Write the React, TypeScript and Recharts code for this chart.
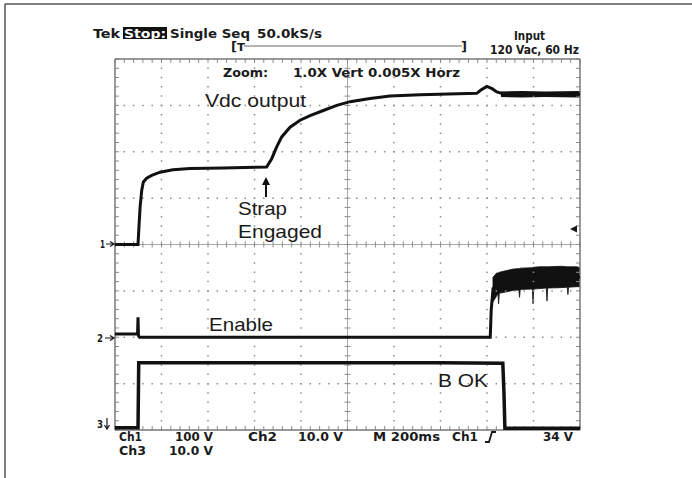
import { Area, ComposedChart, Line, ReferenceLine, XAxis, YAxis } from "recharts";

// time in ms, value in volts
const vdcOutput: [number, number][] = [
  [0, 0], [99, 0], [103, 38], [108, 81], [115, 117], [122, 135], [136, 143],
  [158, 149], [194, 156], [249, 161], [323, 164], [465, 165], [652, 167],
  [674, 185], [695, 210], [717, 232], [753, 253], [796, 268], [839, 278],
  [896, 289], [954, 300], [1011, 308], [1097, 315], [1183, 320], [1312, 323],
  [1556, 326], [1574, 333], [1599, 341], [1622, 336], [1642, 329], [1669, 325],
  [1850, 324], [2000, 324],
];
// [ms, low V, high V] ripple band on Vdc after settling
const vdcRipple: [number, number, number][] = [
  [1660, 318, 330], [1750, 317, 331], [1850, 318, 330], [2000, 317, 331],
];

const enable: [number, number][] = [
  [0, 0.7], [97, 0.7], [99, 4.3], [101, 0.3], [105, 0], [1614, 0], [1618, 5.8],
  [1626, 10.5], [1660, 11.8], [1700, 12.4], [1830, 12.9], [2000, 13],
];
const enableNoise: [number, number, number][] = [
  [1624, 7.5, 12.8], [1640, 8.8, 13.8], [1647, 9.4, 13.9], [1650, 7.2, 13.9],
  [1653, 9.5, 14.0], [1685, 9.8, 14.4], [1712, 10.1, 14.7], [1737, 10.2, 14.8],
  [1740, 8.6, 14.8], [1743, 10.3, 14.9], [1795, 10.4, 15.0], [1798, 7.2, 15.1],
  [1801, 10.4, 15.1], [1828, 10.5, 15.2], [1855, 10.6, 15.2], [1858, 7.8, 15.2],
  [1861, 10.6, 15.2], [1920, 10.7, 15.3], [1945, 10.8, 15.2], [1948, 9.2, 15.2],
  [1951, 10.8, 15.2], [1986, 10.9, 15.2], [2000, 10.9, 15.0],
];

const bOk: [number, number][] = [
  [0, 0.5], [99, 0.5], [102, 14.5], [1400, 14.5], [1668, 14.4], [1673, 8],
  [1677, 0.4], [2000, 0.4],
];

// channel setup: volts per division, ground position in divisions from bottom
const CH1 = { scale: 100, ground: 4 };
const CH2 = { scale: 10, ground: 2 };
const CH3 = { scale: 10, ground: 0 };

const W = 692;
const H = 478;
const M = { top: 59, right: 112, bottom: 48, left: 115 };
const MS_X = 2000 / (W - M.left - M.right); // ms per px
const DIV_Y = 8 / (H - M.top - M.bottom); // div per px

const toPts = (d: [number, number][], ch: { scale: number; ground: number }) =>
  d.map(([t, v]) => ({ t, y: ch.ground + v / ch.scale }));
const toBand = (d: [number, number, number][], ch: { scale: number; ground: number }) =>
  d.map(([t, lo, hi]) => ({ t, y: [ch.ground + lo / ch.scale, ch.ground + hi / ch.scale] }));

const minorX = Array.from({ length: 51 }, (_, i) => i * 40);
const minorY = Array.from({ length: 41 }, (_, i) => i * 0.2);
const majorX = [200, 400, 600, 800, 1200, 1400, 1600, 1800];
const majorY = [1, 2, 3, 5, 6, 7];

const GRID = "#8c8c8c";
const TRACE = "#111";
const scopeFont = "'DejaVu Sans Condensed', 'DejaVu Sans', sans-serif";
const noteFont = "'Liberation Sans', Arial, sans-serif";

function Txt({ x, y, len, size = 13, children, fill = "#1a1a1a", font = scopeFont, bold = true }: any) {
  return (
    <text
      x={x}
      y={y}
      textLength={len}
      lengthAdjust="spacingAndGlyphs"
      fontSize={size}
      fontFamily={font}
      fontWeight={bold ? 700 : 400}
      fill={fill}
    >
      {children}
    </text>
  );
}

function Overlay() {
  return (
    <svg width={W} height={H} style={{ position: "absolute", left: 0, top: 0, pointerEvents: "none" }}>
      <line x1={5} y1={4} x2={W} y2={4} stroke="#555" strokeWidth={1.5} />
      <line x1={5} y1={4} x2={5} y2={H} stroke="#555" strokeWidth={1.5} />

      <Txt x={93} y={38} len={27}>Tek</Txt>
      <rect x={123} y={27} width={44} height={12} fill="#111" />
      <Txt x={124} y={37.5} len={42} fill="#fff">Stop:</Txt>
      <Txt x={170} y={38} len={80}>Single Seq</Txt>
      <Txt x={257} y={38} len={65}>50.0kS/s</Txt>
      <Txt x={514} y={40} len={31} size={12}>Input</Txt>
      <Txt x={490} y={54} len={89} size={12}>120 Vac, 60 Hz</Txt>

      <Txt x={231} y={51} len={6} size={12}>[</Txt>
      <Txt x={237} y={51} len={8} size={11}>T</Txt>
      <line x1={244} y1={46} x2={462} y2={46} stroke="#666" strokeWidth={1} />
      <Txt x={461} y={51} len={6} size={12}>]</Txt>

      <Txt x={223} y={77} len={45}>Zoom:</Txt>
      <Txt x={293} y={77} len={167}>1.0X Vert 0.005X Horz</Txt>

      <Txt x={119} y={441} len={23} size={11.5}>Ch1</Txt>
      <Txt x={175} y={441} len={38} size={11.5}>100 V</Txt>
      <Txt x={248} y={441} len={29} size={11.5}>Ch2</Txt>
      <Txt x={298} y={441} len={45} size={11.5}>10.0 V</Txt>
      <Txt x={373} y={441} len={67} size={11.5}>M 200ms</Txt>
      <Txt x={452} y={441} len={26} size={11.5}>Ch1</Txt>
      <path d="M485 442 L489 442 L492 432 L496 432" fill="none" stroke="#1a1a1a" strokeWidth={1.8} />
      <Txt x={543} y={441} len={30} size={11.5}>34 V</Txt>
      <Txt x={119} y={455} len={27} size={11.5}>Ch3</Txt>
      <Txt x={169} y={455} len={44} size={11.5}>10.0 V</Txt>

      <Txt x={100} y={248} len={5} size={11}>1</Txt>
      <path d="M106 244 L113 244 M110 241.5 L114 244 L110 246.5" fill="none" stroke="#1a1a1a" strokeWidth={1.2} />
      <Txt x={97} y={342} len={6} size={11}>2</Txt>
      <path d="M105 338 L113 338 M110 335.5 L114 338 L110 340.5" fill="none" stroke="#1a1a1a" strokeWidth={1.2} />
      <Txt x={97} y={428} len={6} size={11}>3</Txt>
      <path d="M107 418 L107 428 M104.5 425 L107 429 L109.5 425" fill="none" stroke="#1a1a1a" strokeWidth={1.2} />
      <path d="M570 229 L577 225.5 L577 232.5 Z" fill="#1a1a1a" />

      <Txt x={205} y={107} len={101} size={18.5} font={noteFont} bold={false}>Vdc output</Txt>
      <Txt x={238} y={215} len={49} size={18.5} font={noteFont} bold={false}>Strap</Txt>
      <Txt x={238} y={238} len={84} size={18.5} font={noteFont} bold={false}>Engaged</Txt>
      <line x1={266} y1={197} x2={266} y2={183} stroke="#111" strokeWidth={2} />
      <path d="M266 177 L270 185 L262 185 Z" fill="#111" />
      <Txt x={209} y={331} len={64} size={18.5} font={noteFont} bold={false}>Enable</Txt>
      <Txt x={438} y={387} len={50} size={18.5} font={noteFont} bold={false}>B OK</Txt>
    </svg>
  );
}

export default function App() {
  const tx = 4 * MS_X;
  const ty = 4 * DIV_Y;
  const cx = 3 * MS_X;
  const cy = 3 * DIV_Y;
  return (
    <div style={{ position: "absolute", left: 0, top: 0, width: W, height: H, background: "#fff" }}>
      <ComposedChart width={W} height={H} margin={M}>
        <XAxis type="number" dataKey="t" domain={[0, 2000]} hide allowDataOverflow />
        <YAxis type="number" domain={[0, 8]} hide allowDataOverflow />

        {majorX.map((t) => (
          <ReferenceLine key={"gx" + t} x={t} stroke={GRID} strokeWidth={1.5} strokeDasharray="1.5 7.775" strokeDashoffset={0.75} />
        ))}
        {majorY.map((v) => (
          <ReferenceLine key={"gy" + v} y={v} stroke={GRID} strokeWidth={1.5} strokeDasharray="1.5 7.8" strokeDashoffset={0.75} />
        ))}
        <ReferenceLine x={1000} stroke="#a8a8a8" strokeWidth={1} />
        <ReferenceLine y={4} stroke="#a8a8a8" strokeWidth={1} />
        {minorX.map((t) => (
          <ReferenceLine key={"cx" + t} segment={[{ x: t, y: 4 - cy }, { x: t, y: 4 + cy }]} stroke={GRID} strokeWidth={1} />
        ))}
        {minorY.map((v) => (
          <ReferenceLine key={"cy" + v} segment={[{ x: 1000 - cx, y: v }, { x: 1000 + cx, y: v }]} stroke={GRID} strokeWidth={1} />
        ))}
        {minorX.map((t) => (
          <ReferenceLine key={"bb" + t} segment={[{ x: t, y: 0 }, { x: t, y: ty }]} stroke={GRID} strokeWidth={1} />
        ))}
        {minorX.map((t) => (
          <ReferenceLine key={"bt" + t} segment={[{ x: t, y: 8 }, { x: t, y: 8 - ty }]} stroke={GRID} strokeWidth={1} />
        ))}
        {minorY.map((v) => (
          <ReferenceLine key={"bl" + v} segment={[{ x: 0, y: v }, { x: tx, y: v }]} stroke={GRID} strokeWidth={1} />
        ))}
        {minorY.map((v) => (
          <ReferenceLine key={"br" + v} segment={[{ x: 2000, y: v }, { x: 2000 - tx, y: v }]} stroke={GRID} strokeWidth={1} />
        ))}
        <ReferenceLine x={0} stroke="#777" strokeWidth={1.5} />
        <ReferenceLine x={2000} stroke="#777" strokeWidth={1.5} />
        <ReferenceLine y={0} stroke="#777" strokeWidth={1.5} />
        <ReferenceLine y={8} stroke="#777" strokeWidth={1.5} />

        <Area data={toBand(vdcRipple, CH1)} dataKey="y" type="linear" stroke="none" fill={TRACE} fillOpacity={1} isAnimationActive={false} />
        <Area data={toBand(enableNoise, CH2)} dataKey="y" type="linear" stroke={TRACE} strokeWidth={0.8} fill={TRACE} fillOpacity={1} isAnimationActive={false} />
        <Line data={toPts(vdcOutput, CH1)} dataKey="y" type="linear" stroke={TRACE} strokeWidth={3} dot={false} isAnimationActive={false} />
        <Line data={toPts(enable, CH2)} dataKey="y" type="linear" stroke={TRACE} strokeWidth={3} dot={false} isAnimationActive={false} />
        <Line data={toPts(bOk, CH3)} dataKey="y" type="linear" stroke={TRACE} strokeWidth={3.5} dot={false} isAnimationActive={false} />
      </ComposedChart>
      <Overlay />
    </div>
  );
}
